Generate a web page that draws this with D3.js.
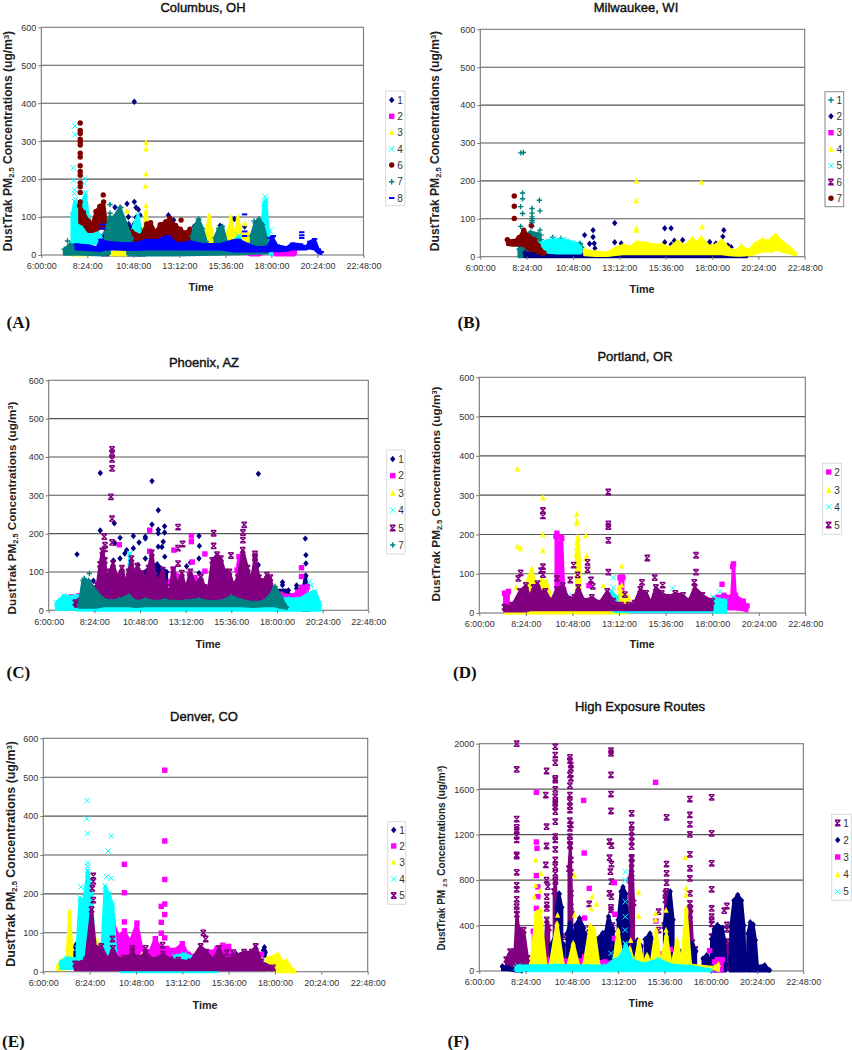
<!DOCTYPE html>
<html><head><meta charset="utf-8">
<script src="https://cdnjs.cloudflare.com/ajax/libs/d3/7.8.5/d3.min.js"></script>
<style>html,body{margin:0;padding:0;background:#fff}svg{display:block;font-family:"Liberation Sans",Arial,sans-serif}.soft{filter:blur(.35px)}</style>
</head><body><svg id="c" width="852" height="1050"></svg>
<script>
// x values: clock hours; y values: concentration. Pts = individual readings, Band = dense clouds as [hour, low, high]
const tickHours=[6,8.4,10.8,13.2,15.6,18,20.4,22.8];
const yTicksStd=[0,100,200,300,400,500,600];
const yTicksHigh=[0,400,800,1200,1600,2000];

// A Columbus
const colPts1=[[10.85,404],[9.84,126],[10.47,135],[10.85,140],[10.94,125],[11.06,120],[10.54,100],[10.94,99],[11.15,105],[10.55,82],[10.87,83],[12.63,105],[12.9,92],[13.97,75],[15.32,77],[16.07,95],[16.6,75],[11,60],[10.3,70]];
const colBand1=[[[9.2,0,50],[9.8,0,70],[10.4,0,75],[10.9,0,80],[11.4,0,60]]];
const colPts2=[];
const colBand2=[[[18.2,0,10],[18.5,0,14],[18.9,0,13],[19.2,0,8]],[[16.9,0,5],[17.4,0,6]]];
const colPts3=[[11.46,296],[11.46,280],[11.46,214],[11.44,182],[11.46,130],[10.47,116],[14.75,105],[14.75,100],[15.86,100],[16.26,100],[16.63,83],[15.9,88],[8.25,45]];
const colBand3=[[[7.6,0,28],[8,0,35],[8.4,0,28]],[[9.6,0,8],[9.8,0,14],[10.3,0,13],[10.45,0,6]],[[11.3,20,50],[11.46,20,115],[11.6,20,50]],[[14.55,25,55],[14.75,25,95],[14.95,25,50],[15.25,20,50]],[[15.65,25,50],[15.9,25,90],[16.05,25,50],[16.26,25,92],[16.5,20,45],[16.75,20,60],[16.95,20,35]]];
const colPts4=[[7.76,340],[7.76,317],[7.67,230],[7.69,197],[7.72,172],[7.72,162],[8.28,202],[8.23,188],[8.3,165],[7.8,146],[17.67,154],[17.93,63],[17.65,140],[17.7,125]];
const colBand4=[[[7.6,15,105],[7.75,15,140],[8,25,125],[8.3,30,160],[8.45,30,100],[8.8,30,70],[9.1,30,50]],[[17.5,25,60],[17.6,25,135],[17.72,30,145],[17.82,20,65],[18,0,15]],[[10.8,30,75],[11.05,30,105],[11.2,30,50]],[[15.9,5,30],[16.3,5,50],[16.5,5,30]]];
const colPts6=[[8.03,348],[8.03,328],[8.03,320],[8.03,305],[8.03,298],[8.03,290],[8.03,268],[8.03,258],[8.03,235],[8.03,220],[8.03,210],[8.03,190],[8.03,180],[8.03,165],[8.03,140],[9.23,158],[13.29,92]];
const colBand6=[[[8,85,130],[8.2,80,112],[8.45,62,90],[8.65,62,80],[8.85,65,115],[9.05,70,128],[9.25,72,140],[9.4,60,80]],[[10.5,35,50],[10.7,35,62],[11.2,30,50],[11.5,32,82],[11.7,35,85],[11.95,35,60],[12.2,35,80],[12.5,32,88],[12.7,30,96],[13.0,30,78],[13.25,30,68],[13.5,30,58],[13.75,28,68],[13.9,28,45]]];
const colPts7=[[7.37,37],[9.58,133],[9.58,110],[10.15,125],[14.2,93],[17.1,90]];
const colBand7=[[[7.2,2,15],[7.5,2,28],[8,2,20],[9.2,0,20],[9.55,3,16]],[[10.5,2,16],[11,0,17],[13,0,17],[15,2,18],[17.8,5,18]],[[9.35,20,60],[9.55,20,100],[9.8,25,100],[10.1,25,125],[10.4,25,85],[10.7,20,45]],[[13.85,25,50],[14,25,75],[14.2,25,95],[14.4,25,70],[14.6,25,35]],[[15.05,25,45],[15.25,25,70],[15.45,25,75],[15.65,25,35]],[[16.95,25,50],[17.15,25,85],[17.35,25,95],[17.55,25,80],[17.75,25,40]]];
const colPts8=[[16.6,107],[19.58,60],[19.58,52],[19.58,45],[16.6,62],[16.6,50],[9.2,80],[9.2,70],[17.9,45],[18.1,50]];
const colBand8=[[[7.8,15,28],[8.4,14,25],[8.9,12,20],[9.1,12,40],[9.35,15,35],[9.8,15,32],[10.4,14,30],[11,14,32],[11.5,15,40],[12,15,38],[12.6,15,50],[13.1,15,30],[13.8,15,35],[14.5,15,28],[15.3,15,28],[15.8,12,35],[16,10,38],[16.3,10,40],[16.7,10,30],[17.2,10,20],[17.8,10,22],[18.05,12,48],[18.3,10,25],[18.8,12,20],[19.1,15,30],[19.5,15,28],[19.8,15,22],[20.0,18,35],[20.25,15,42],[20.45,5,15],[20.6,3,8]]];

// B Milwaukee
const milPts1=[[8.1,274],[8.23,275],[8.19,168],[8.19,153],[8.09,132],[8.19,114],[9.06,149],[9.09,121],[8.09,80],[8.68,127],[8.68,115],[8.68,105],[8.68,100],[8.68,95],[8.68,90],[8.68,80],[9.09,70],[9.14,57],[9.14,45],[10.18,48],[9.75,51]];
const milBand1=[[[8,0,20],[8.2,0,45],[8.6,15,65],[9,15,60],[9.2,15,30]],[[11.1,5,32],[11.18,5,35],[11.25,5,25]]];
const milPts2=[[11.4,57],[11.84,70],[11.84,52],[11.66,34],[11.9,35],[11.94,22],[12.96,89],[12.96,38],[13.3,35],[15.55,75],[15.88,75],[15.55,38],[15.88,32],[16.05,42],[16.48,44],[17.88,39],[17.88,31],[18.61,70],[18.56,53],[18.82,30],[18.99,25],[18.2,35]];
const milBand2=[[[8.3,0,10],[9.5,0,9],[11,0,9],[12,0,6],[13,0,8],[15,0,10],[17,0,12],[18.4,0,15],[18.8,0,20],[19.8,0,5]]];
const milPts3=[];
const milBand3=[];
const milPts4=[[14.08,200],[14.08,148],[14.08,75],[14.08,70],[17.45,197],[17.49,79]];
const milBand4=[[[11.4,5,18],[12,3,12],[12.6,3,10],[13,6,22],[13.4,8,30],[13.8,8,25],[14.1,8,38],[14.6,8,35],[15,8,30],[15.4,8,32],[15.8,8,22],[16.2,8,40],[16.6,8,28],[17,8,48],[17.2,8,35],[17.45,8,50],[17.8,8,28],[18.2,8,30],[18.5,8,42],[18.9,5,20],[19.3,4,15],[19.5,4,28],[19.9,5,15],[20.2,8,32],[20.6,15,45],[20.9,15,40],[21.15,15,50],[21.3,20,57],[21.6,15,40],[22,10,25],[22.3,5,10]]];
const milPts5=[[9.8,48],[10.3,46]];
const milBand5=[[[9.1,12,35],[9.5,12,42],[10,10,45],[10.5,10,42],[11,10,35],[11.2,10,25]]];
const milPts6=[];
const milBand6=[];
const milPts7=[[7.76,160],[7.76,133],[7.76,101],[8.64,82]];
const milBand7=[[[7.4,32,45],[7.7,30,40],[8,30,50],[8.25,30,70],[8.5,18,55],[8.8,15,45],[9,10,30],[9.3,5,10]]];

// C Phoenix
const phxPts1=[[8.71,358],[8.71,208],[7.49,146],[9.45,227],[9.49,175],[9.75,189],[10.45,194],[10.45,162],[10.75,177],[11.08,192],[11.08,187],[11.43,337],[11.43,224],[11.76,261],[11.76,210],[11.76,201],[12.09,219],[12.09,203],[12.02,179],[11.76,166],[11.08,135],[13.9,194],[13.92,168],[13.9,135],[13.25,115],[13.9,97],[17.02,356],[17.02,118],[19.49,187],[19.52,144],[19.52,122],[18.29,73],[18.29,66],[18.33,50],[19.03,57],[19.03,65],[19.52,90],[8.35,77],[10.1,157],[10,148],[9.75,135],[10.7,118],[9.4,130],[11.95,165],[12.1,140],[13.45,125]];
const phxBand1=[[[10.7,50,95],[11.2,50,105],[11.7,50,120],[12.2,50,100]],[[19.35,0,50],[19.5,0,90],[19.65,0,30]],[[17.9,40,52],[18.6,40,52]]];
const phxPts2=[[11.31,209],[11.31,154],[9.71,171],[12.58,157],[13.5,194],[13.5,179],[13.55,126],[14.21,147],[14.21,102],[19.29,111],[19.29,88]];
const phxBand2=[[[15.9,40,105],[16.0,40,140],[16.2,40,140],[16.3,40,70]],[[17.6,25,60],[18.2,20,42],[18.8,20,38],[19.1,20,48],[19.3,20,60],[19.6,20,62]],[[12.4,35,75],[12.55,35,108],[12.7,35,90]],[[7.2,15,35],[7.6,15,38]],[[13.4,30,95],[13.7,30,85]],[[9.3,25,85],[9.8,25,90]]];
const phxPts3=[[9.26,75],[17.1,30],[17.35,30]];
const phxBand3=[];
const phxPts4=[[10.27,148],[19.73,75],[19.8,65]];
const phxBand4=[[[6.4,2,20],[6.8,2,38],[7.1,2,35],[7.5,5,38]],[[17.9,0,22],[18.5,0,30],[19.2,0,30],[19.7,0,45],[20,0,50],[20.25,0,18]],[[10.2,30,100],[10.27,30,148],[10.35,30,70]],[[7.5,0,5],[12,0,5],[18,0,6]]];
const phxPts5=[[9.33,420],[9.33,411],[9.33,394],[9.33,370],[9.27,296],[9.33,239],[9.33,177],[8.92,192],[8.96,170],[8.96,160],[12.8,217],[13.04,173],[12.8,162],[12.8,122],[14.67,201],[14.67,168],[16.28,223],[16.21,203],[16.21,183],[15.58,143],[16.84,147],[16.84,136]];
const phxBand5=[[[7.4,10,20],[7.8,15,40],[8.2,20,55],[8.55,25,65],[8.7,25,120],[8.82,25,155],[8.95,25,130],[9.08,25,70],[9.2,25,100],[9.38,25,122],[9.6,25,85],[9.85,25,110],[10.05,25,70],[10.2,25,100],[10.35,25,135],[10.5,25,85],[10.65,25,115],[10.9,25,95],[11.1,25,85],[11.25,25,110],[11.42,25,150],[11.6,25,90],[11.75,25,75],[12,25,105],[12.2,25,60],[12.35,25,45],[12.55,25,105],[12.75,25,65],[13,25,97],[13.2,25,55],[13.45,25,100],[13.7,25,65],[14,25,87],[14.2,25,60],[14.4,25,55],[14.6,25,130],[14.85,25,145],[15.05,25,135],[15.25,25,100],[15.5,25,100],[15.7,25,65],[15.95,25,85],[16.2,25,157],[16.45,25,110],[16.65,25,75],[16.85,25,140],[17.05,25,85],[17.3,25,75],[17.47,25,92],[17.65,25,85],[17.8,25,50]]];
const phxPts7=[[8.14,96],[7.87,83]];
const phxBand7=[[[7.6,8,15],[7.8,8,78],[8.1,8,78],[8.5,8,48],[8.9,12,28],[9.3,12,24],[9.7,12,28],[10.2,12,38],[10.6,10,22],[11.1,12,28],[11.6,12,22],[12.1,12,26],[12.6,12,22],[13.2,12,24],[13.9,12,28],[14.5,12,22],[15.1,12,24],[15.6,12,36],[16.1,12,26],[16.8,10,19],[17.3,12,24],[17.6,12,36],[17.9,12,62],[18.15,8,40],[18.5,5,8]]];

// D Portland
const porPts2=[[7.37,50],[10,203],[10.21,193],[13.35,92],[18.51,73],[19.06,118],[11.65,70]];
const porBand2=[[[7.3,10,50],[7.5,10,55]],[[9.95,40,195],[10.1,40,170],[10.25,40,190],[10.35,30,60]],[[13.25,30,90],[13.4,30,90]],[[18.3,8,40],[18.6,10,45],[19,10,40],[19.1,10,125],[19.2,10,45],[19.6,8,30],[19.8,5,18]],[[13.5,3,10],[15,3,10],[18,3,10]]];
const porPts3=[[7.96,367],[7.96,170],[8.13,164],[9.28,294],[9.28,200],[9.28,159],[11.02,252],[11.03,235],[11.03,228],[11.08,194],[11.02,180],[11.02,165],[11.5,197],[11.53,146],[11.5,138],[13.34,120],[13.34,71],[12.39,70],[7.9,65],[8.71,114],[8.71,105],[11.53,110]];
const porBand3=[[[8.5,20,85],[8.7,20,110],[8.85,20,80]],[[11,40,150],[11.1,40,190],[11.2,40,90]],[[9.2,25,85],[9.45,25,80],[9.6,25,55]],[[7.4,0,3],[8.5,0,6],[10.8,0,8],[13.6,0,6]],[[13.2,20,65],[13.4,25,50],[13.7,20,40]]];
const porPts4=[[12.9,90],[12.9,65],[18.4,55],[15.97,63],[8.8,50],[10.6,45]];
const porBand4=[[[18.05,2,40],[18.3,2,35],[18.7,2,32]],[[13,3,10],[15.5,3,10],[18,3,12]],[[12.8,25,55],[13.1,20,40]]];
const porPts5=[[12.65,308],[12.65,227],[12.65,220],[12.65,185],[12.65,104],[9.28,261],[9.28,247],[9.28,118],[9.28,98],[9.18,108],[8.13,102],[8.01,88],[14.66,140],[15.04,90],[17.17,147],[17.17,104],[17.08,78],[10.86,122],[10,88],[10.69,84],[11.07,97],[11.58,129],[11.58,110],[11.76,84],[11.85,68],[14.38,78],[15.45,71],[13.5,47]];
const porBand5=[[[7.3,5,15],[7.7,5,20],[8.1,5,55],[8.4,5,70],[8.6,8,40],[8.8,8,65],[9,8,75],[9.2,8,50],[9.4,8,55],[9.7,8,30],[10,8,60],[10.3,8,70],[10.6,8,35],[10.9,8,40],[11.1,8,65],[11.4,8,30],[11.8,8,40],[12.2,8,25],[12.6,8,55],[12.9,8,30],[13.3,8,20],[13.7,8,20],[14,8,25],[14.3,8,60],[14.6,8,50],[14.85,8,25],[15.1,8,65],[15.4,8,50],[15.8,8,40],[16.1,8,50],[16.5,8,45],[16.8,8,30],[17.1,8,65],[17.5,8,45],[18,8,30]]];

// E Denver
const denPts1=[[17.45,63],[17.45,55],[10.49,80],[16.0,45]];
const denBand1=[[[7.5,40,55],[7.7,40,70],[7.9,40,65]],[[17.4,40,55],[17.5,40,50]]];
const denPts2=[[12.29,518],[12.29,336],[12.29,237],[12.29,174],[12.11,168],[12.29,147],[12.11,127],[12.11,99],[12.29,87],[10.2,276],[10.2,203],[10.2,128],[17.3,45]];
const denBand2=[[[9.3,25,70],[9.6,20,130],[9.9,20,90],[10.2,20,105],[10.5,20,75],[10.85,20,125],[11.1,20,60],[11.5,20,50],[11.8,20,85],[12,20,65],[12.4,20,60],[12.8,20,55],[13.2,20,72],[13.5,20,45],[13.9,20,40],[14.2,20,55],[14.7,20,50],[15,20,60],[15.3,20,68],[15.6,20,65],[15.9,20,30]]];
const denPts3=[[7.36,156],[7.36,146],[7.36,116],[8.76,80],[11.1,45]];
const denBand3=[[[6.75,5,15],[6.95,5,30],[7.1,5,15]],[[7.25,15,60],[7.36,15,150],[7.48,15,60]],[[8.65,30,60],[8.75,30,75],[8.85,30,60]],[[17.6,5,35],[18,5,40],[18.15,0,45],[18.4,0,25],[18.6,0,28],[18.8,0,12],[19,0,2]]];
const denPts4=[[8.26,440],[8.26,393],[8.3,355],[9.52,349],[9.35,310],[8.3,280],[9.28,244],[9.52,240],[7.95,218],[8.3,270],[8.28,250]];
const denBand4=[[[6.9,8,25],[7.2,8,35],[7.7,8,32]],[[7.75,20,60],[7.9,20,190],[8.1,20,180],[8.3,20,260],[8.5,20,200],[8.65,20,40]],[[9.05,20,70],[9.2,20,220],[9.4,20,200],[9.6,20,170],[9.75,20,50]],[[10,0,8],[12,0,7],[14.3,0,10],[15,0,5]],[[12.8,15,40],[13.3,15,45],[13.9,15,35]]];
const denPts5=[[8.59,246],[8.59,232],[8.54,214],[8.59,184],[14.29,100],[14.41,84],[9.59,84],[10.61,60],[10.61,52],[12.18,68],[15.5,49],[15.85,49],[11.3,60]];
const denBand5=[[[7.65,5,20],[8.2,5,30],[8.5,5,160],[8.7,5,60],[9,5,65],[9.35,5,30],[9.6,5,60],[9.9,5,30],[10.2,5,35],[10.6,5,45],[11,5,35],[11.3,5,50],[11.7,5,30],[12.2,5,45],[12.6,5,30],[13,5,30],[13.6,5,25],[14.15,5,65],[14.45,5,50],[14.8,5,30],[15.1,5,60],[15.4,5,30],[15.9,5,40],[16.4,5,50],[16.8,5,50],[17,5,65],[17.3,5,25],[17.9,5,10]]];

// F High exposure
const higPts1=[[7.94,2000],[7.94,1774],[7.94,1337],[7.94,1264],[7.94,1240],[7.94,1188],[7.94,1153],[7.94,1021],[7.94,1012],[7.94,868],[7.94,754],[7.94,719],[7.94,631],[7.94,566],[7.94,537],
[9.94,1974],[9.94,1900],[9.94,1833],[9.94,1695],[9.94,1680],[9.94,1598],[9.94,1534],[9.94,1504],[9.94,1475],[9.94,1446],[9.94,1402],[9.94,1314],[9.94,1182],[9.94,1153],[9.94,1070],[9.94,977],[9.94,918],[9.94,859],[9.94,786],
[9.49,1760],[9.45,1548],[9.49,1270],[9.49,1100],[9.45,933],[9.49,800],[9.55,742],[9.5,654],[9.5,581],[9.5,551],
[10.7,1880],[10.7,1851],[10.75,1812],[10.75,1783],[10.7,1725],[10.75,1695],[10.7,1631],[10.7,1548],[10.7,1490],[10.7,1446],[10.7,1416],[10.7,1323],[10.75,1285],[10.7,1255],[10.7,1182],[10.7,1153],[10.7,1109],[10.75,977],[10.75,868],[10.75,683],[10.75,566],
[12.83,1939],[12.83,1915],[12.83,1725],[12.83,1557],[12.83,1408],[12.75,1138],[12.85,1103],[12.75,997],[12.85,940],[12.8,874],[12.85,786],[12.75,683],[12.85,654],[12.83,560],[12.83,537],
[13.9,1387],[13.9,1285],[13.9,1226],[13.9,1182],[13.9,1138],[13.9,1094],[13.9,991],[13.9,947],[13.9,859],[13.9,786],
[15.71,1352],[15.71,941],[15.71,859],[15.71,777],[15.65,683],[15.65,625],[15.3,522],[15.3,360],
[16.92,1513],[16.92,1373],[16.92,1291],[16.92,1202],[16.92,1027],[16.92,903],[16.92,815],[16.92,683],[16.92,595],[16.92,537],[16.92,449],
[18.05,1528],[18.05,1211],[18.05,947],[18.05,719],[18.05,551],[18.05,478],[18.05,449],[18.05,414],[18.05,302],
[18.84,572],[18.7,531],[18.84,405],[18.84,367],[18.84,258],[11.7,590],[11.7,375],[10.4,302],[17.2,190]];
const higBand1=[[[7.4,30,100],[7.6,30,170],[7.85,30,170],[7.95,30,500],[8.05,30,360],[8.3,30,360],[8.5,20,110]],[[9.42,60,250],[9.5,60,450],[9.6,60,380]],[[9.88,60,700],[9.95,60,800],[10.02,60,500]],[[10.65,60,900],[10.72,60,1100],[10.8,60,500]],[[12.75,60,300],[12.9,60,400]],[[13.8,100,800],[13.9,100,1000],[14,100,600]],[[15.6,100,400],[15.7,100,700],[15.8,100,350]],[[16.85,60,400],[16.95,60,550],[17.05,60,250]],[[18.7,10,160],[18.85,10,230],[19,10,110],[19.3,20,40]]];
const higPts2=[[7.2,40],[10.15,680]];
const higBand2=[[[7.2,10,40],[7.5,10,30],[7.9,0,12],[8.2,0,5]],[[10.0,250,560],[10.13,250,680],[10.28,250,560]],
[[9.7,30,230],[10.0,30,330],[10.4,30,230]],[[10.55,30,330],[10.7,30,420],[10.88,30,330]],[[10.98,30,400],[11.2,30,465],[11.42,30,380]],[[11.5,30,330],[11.7,30,300],[12,30,240]],[[12.1,30,280],[12.4,30,335],[12.55,30,340],[12.7,30,480],[12.95,30,350]],[[13.2,30,450],[13.35,40,700],[13.45,40,740],[13.6,40,680],[13.72,30,400]],[[13.98,30,240],[14.2,30,270],[14.4,30,220]],[[14.6,30,280],[14.85,30,330],[15.05,30,260]],[[15.6,30,420],[15.75,30,560],[15.9,30,700],[16.05,30,450]],[[16.3,30,130],[16.45,30,170],[16.6,30,110]],[[16.88,30,210],[17.03,30,245],[17.22,30,180]],[[17.6,30,110],[17.8,30,140],[17.95,30,100]],[[18.0,0,60],[18.05,0,280],[18.18,0,370],[18.35,0,405],[18.6,0,380],[18.72,0,270],[18.78,0,60]],[[19.0,0,100],[19.05,0,400],[19.2,0,620],[19.4,0,670],[19.6,0,620],[19.72,0,400],[19.78,0,80]],[[19.9,0,80],[19.93,0,330],[20.05,0,430],[20.2,0,410],[20.32,0,270],[20.42,0,40]],[[20.42,0,40],[20.8,0,50],[21.05,0,8]]];
const higPts3=[[8.96,1572],[8.96,1135],[8.99,1079],[8.96,839],[9.04,740],[9.04,654],[8.96,551],[11.41,1501],[11.44,1038],[11.7,727],[11.46,466],[15.14,1660],[13,777],[13.03,499],[13,287],[17.94,179],[15.16,440],[11.46,125],[15.9,190]];
const higBand3=[[[18.2,0,80],[18.35,0,100],[18.6,0,100]],[[8.8,30,350],[9.05,30,300]],[[9.5,30,100],[11.5,30,100],[12.5,30,80],[13.5,30,80]],[[15.5,30,150],[15.6,30,70]]];
const higPts4=[[8.92,977],[9.2,859],[8.92,757],[9.16,707],[8.85,654],[9.2,531],[8.95,510],[10.06,493],[10.94,842],[10.94,493],[11.86,654],[12.08,590],[11.8,550],[14.26,692],[14.26,484],[16.68,1000],[16.73,727],[16.73,669],[16.73,537],[15.14,507],[15.14,450],[15.68,537],[15.68,360],[13.85,270],[14.3,270],[15.7,300],[15.7,220]];
const higBand4=[[[8.7,30,80],[8.95,30,510],[9.15,30,540],[9.45,30,60]],[[9.7,30,80],[10.03,30,420],[10.35,30,60]],[[10.6,30,50],[10.87,30,245],[11.15,30,50]],[[11.45,30,80],[11.75,30,400],[11.95,30,370],[12.2,30,60]],[[12.95,30,60],[13.2,30,360],[13.45,30,60]],[[13.55,30,60],[13.8,30,200],[14.05,30,60]],[[14.05,30,60],[14.28,30,270],[14.5,30,50]],[[14.5,30,50],[14.7,30,140],[14.9,30,40]],[[14.9,30,60],[15.17,30,360],[15.4,30,50]],[[15.42,30,60],[15.7,30,320],[15.95,30,50]],[[16.0,30,60],[16.25,30,270],[16.5,30,50]],[[16.5,30,80],[16.72,30,550],[16.95,30,60]],[[17,30,50],[18.2,20,30],[18.4,5,60]]];
const higPts5=[[13.57,874],[13.57,800],[13.57,610],[13.57,478],[13.57,360],[13.57,243],[12.83,155]];
const higBand5=[[[7.9,2,30],[8,2,45],[10,2,48],[12.6,2,45],[13,2,100],[13.3,2,120],[13.6,2,230],[13.9,2,100],[14.5,2,60],[15.3,2,100],[16,2,50],[17,2,40],[18,2,10]]];

const C={navy:"#000080",mag:"#FF00FF",yel:"#FFFF00",cy:"#00FFFF",pur:"#800080",red:"#800000",teal:"#008080",blue:"#0000FF"};
const S=(label,shape,color,pts,bands)=>({label,shape,color,pts,bands});
const panels=[
{title:"Columbus, OH",tag:"(A)",box:[41.3,363.5,27.3,255],tx:203,ty:7,lx:201,ly:287,xl:12,tagx:6.5,tagy:328,yl:141,yf:12.1,leg:[385.7,405,91,205.7],legy:[100,116.3,132.3,149,165,181.7,198],stroke:"#d9d9d9",
 series:[S("1","d",C.navy,colPts1,colBand1),S("2","s",C.mag,colPts2,colBand2),S("3","t",C.yel,colPts3,colBand3),S("4","x",C.cy,colPts4,colBand4),S("6","c",C.red,colPts6,colBand6),S("7","p",C.teal,colPts7,colBand7),S("8","m",C.blue,colPts8,colBand8)]},
{title:"Milwaukee, WI",tag:"(B)",box:[480.3,804.7,29.3,256.7],tx:636,ty:7,lx:642,ly:289,xl:439,tagx:457.5,tagy:328,yl:141,yf:12.1,leg:[825,843.7,91.7,206.7],legy:[100,116.3,132.7,149,165.7,182,198.3],stroke:"#888",
 series:[S("1","p",C.teal,milPts1,milBand1),S("2","d",C.navy,milPts2,milBand2),S("3","s",C.mag,milPts3,milBand3),S("4","t",C.yel,milPts4,milBand4),S("5","x",C.cy,milPts5,milBand5),S("6","a",C.pur,milPts6,milBand6),S("7","c",C.red,milPts7,milBand7)]},
{title:"Phoenix, AZ",tag:"(C)",box:[48.7,368.3,380.3,610.3],tx:204,ty:362,lx:208,ly:644,xl:16,tagx:6.5,tagy:678,yl:508,yf:11.7,leg:[386.7,405,450,554],legy:[459,475.7,493,510,528,545],stroke:"#d9d9d9",
 series:[S("1","d",C.navy,phxPts1,phxBand1),S("2","s",C.mag,phxPts2,phxBand2),S("3","t",C.yel,phxPts3,phxBand3),S("4","x",C.cy,phxPts4,phxBand4),S("5","a",C.pur,phxPts5,phxBand5),S("7","p",C.teal,phxPts7,phxBand7)]},
{title:"Portland, OR",tag:"(D)",box:[479.3,805.3,377.3,613],tx:635,ty:356,lx:642,ly:644,xl:440,tagx:453,tagy:678,yl:494,yf:11.8,leg:[822.7,841.3,463.3,534.3],legy:[472,490,507,525],stroke:"#d9d9d9",
 series:[S("2","s",C.mag,porPts2,porBand2),S("3","t",C.yel,porPts3,porBand3),S("4","x",C.cy,porPts4,porBand4),S("5","a",C.pur,porPts5,porBand5)]},
{title:"Denver, CO",tag:"(E)",box:[43.3,367.7,738.3,971.7],tx:204,ty:716,lx:205,ly:1005,xl:15,tagx:2,tagy:1047,yl:854,yf:12.4,leg:[387.7,405.7,821.7,904.3],legy:[830,846,862,879,895.5],stroke:"#d9d9d9",
 series:[S("1","d",C.navy,denPts1,denBand1),S("2","s",C.mag,denPts2,denBand2),S("3","t",C.yel,denPts3,denBand3),S("4","x",C.cy,denPts4,denBand4),S("5","a",C.pur,denPts5,denBand5)]},
{title:"High Exposure Routes",tag:"(F)",box:[479.3,803.3,743.7,971],tx:640,ty:706,lx:641,ly:1003,xl:445,tagx:447.5,tagy:1047,yl:858,yf:10,spaced:true,leg:[831.7,851.3,814.3,900.3],legy:[823,840,857,874.5,891.5],stroke:"#d9d9d9",
 series:[S("1","a",C.pur,higPts1,higBand1),S("2","d",C.navy,higPts2,higBand2),S("3","s",C.mag,higPts3,higBand3),S("4","t",C.yel,higPts4,higBand4),S("5","x",C.cy,higPts5,higBand5)],yTicks:yTicksHigh}
];
const svg=d3.select("#c");
function sym(g,shape,color,x,y){
 const r=2.7,p=d3.path();
 if(shape==="c"){g.append("circle").attr("cx",x).attr("cy",y).attr("r",r).attr("fill",color);return;}
 if(shape==="d"){p.moveTo(x,y-r-.5);p.lineTo(x+r,y);p.lineTo(x,y+r+.5);p.lineTo(x-r,y);p.closePath();g.append("path").attr("d",p).attr("fill",color);return;}
 if(shape==="s"){g.append("rect").attr("x",x-r).attr("y",y-r).attr("width",2*r).attr("height",2*r).attr("fill",color);return;}
 if(shape==="t"){p.moveTo(x,y-r-.6);p.lineTo(x+r,y+r);p.lineTo(x-r,y+r);p.closePath();g.append("path").attr("d",p).attr("fill",color);return;}
 if(shape==="m"){g.append("rect").attr("x",x-r).attr("y",y-1).attr("width",2*r).attr("height",2).attr("fill",color);return;}
 if(shape==="p"){p.moveTo(x-r,y);p.lineTo(x+r,y);p.moveTo(x,y-r);p.lineTo(x,y+r);}
 if(shape==="x"||shape==="a"){p.moveTo(x-r,y-r);p.lineTo(x+r,y+r);p.moveTo(x+r,y-r);p.lineTo(x-r,y+r);}
 if(shape==="a"){p.moveTo(x-r,y-r);p.lineTo(x+r,y-r);p.moveTo(x-r,y+r);p.lineTo(x+r,y+r);}
 g.append("path").attr("d",p).attr("fill","none").attr("stroke",color).attr("stroke-width",shape==="x"?1:1.4);
}
const fmt=h=>{const H=Math.floor(h+1e-6),M=Math.round((h-H)*60);return `${H}:${String(M).padStart(2,"0")}:00`;};
panels.forEach(P=>{
 const [l,r,t,b]=P.box,ticks=P.yTicks||yTicksStd;
 const x=d3.scaleLinear().domain([6,22.8]).range([l,r]);
 const y=d3.scaleLinear().domain([0,ticks[ticks.length-1]]).range([b,t]);
 const g=svg.append("g");
 g.append("g").selectAll("line").data(ticks.slice(1,-1)).join("line").attr("x1",l).attr("x2",r).attr("y1",d=>y(d)).attr("y2",d=>y(d)).attr("stroke","#555").attr("stroke-width",1.1);
 g.append("rect").attr("x",l).attr("y",t).attr("width",r-l).attr("height",b-t).attr("fill","none").attr("stroke","#777").attr("stroke-width",1.1);
 const marks=g.append("g").attr("class","soft");
 const area=d3.area().x(d=>x(d[0])).y0(d=>y(d[1])).y1(d=>y(d[2]));
 P.series.forEach(s=>{
  const m=marks.append("g");
  s.bands.forEach(bd=>{
   m.append("path").attr("d",area(bd)).attr("fill",s.color).attr("stroke",s.color).attr("stroke-width",s.shape==="m"?2.5:3).attr("stroke-linejoin","round");
   bd.forEach(d=>{sym(m,s.shape,s.color,x(d[0]),y(d[2]));});
  });
  s.pts.forEach(d=>sym(m,s.shape,s.color,x(d[0]),y(d[1])));
 });
 const ax=g.append("g").attr("transform",`translate(0,${b})`).call(d3.axisBottom(x).tickValues(tickHours).tickFormat(fmt).tickSize(3).tickPadding(5));
 const ay=g.append("g").attr("transform",`translate(${l},0)`).call(d3.axisLeft(y).tickValues(ticks).tickFormat(String).tickSize(3).tickPadding(2));
 [ax,ay].forEach(a=>{a.select(".domain").remove();a.selectAll("line").attr("stroke","#777");a.selectAll("text").attr("font-size",9).attr("fill","#333").attr("font-family","inherit");});
 g.append("text").attr("x",P.tx).attr("y",P.ty+4.5).attr("text-anchor","middle").attr("font-size",13).attr("stroke","#111").attr("stroke-width",.4).attr("fill","#111").text(P.title);
 g.append("text").attr("x",P.lx).attr("y",P.ly+4).attr("text-anchor","middle").attr("font-size",10.8).attr("font-weight",700).attr("fill","#222").text("Time");
 const yt=g.append("text").attr("transform",`translate(${P.xl},${P.yl}) rotate(-90)`).attr("text-anchor","middle").attr("font-size",P.yf).attr("font-weight",700).attr("fill","#222");
 yt.append("tspan").text(P.spaced?"DustTrak PM ":"DustTrak PM");
 yt.append("tspan").attr("font-size",P.yf*.62).attr("dy",2).text("2.5");
 yt.append("tspan").attr("dy",-2).text(" Concentrations (ug/m");
 yt.append("tspan").attr("font-size",P.yf*.62).attr("dy",-3).text("3");
 yt.append("tspan").attr("dy",3).text(")");
 g.append("text").attr("x",P.tagx).attr("y",P.tagy).attr("font-family","Liberation Serif").attr("font-weight",700).attr("font-size",17).attr("fill","#111").text(P.tag);
 const [a,bb,c,dd]=P.leg;
 g.append("rect").attr("x",a).attr("y",c).attr("width",bb-a).attr("height",dd-c).attr("fill","#fff").attr("stroke",P.stroke);
 P.series.forEach((s,i)=>{
  sym(g,s.shape,s.color,a+6,P.legy[i]);
  g.append("text").attr("x",a+11.5).attr("y",P.legy[i]+3.5).attr("font-size",10).attr("fill","#333").text(s.label);
 });
});
</script></body></html>
